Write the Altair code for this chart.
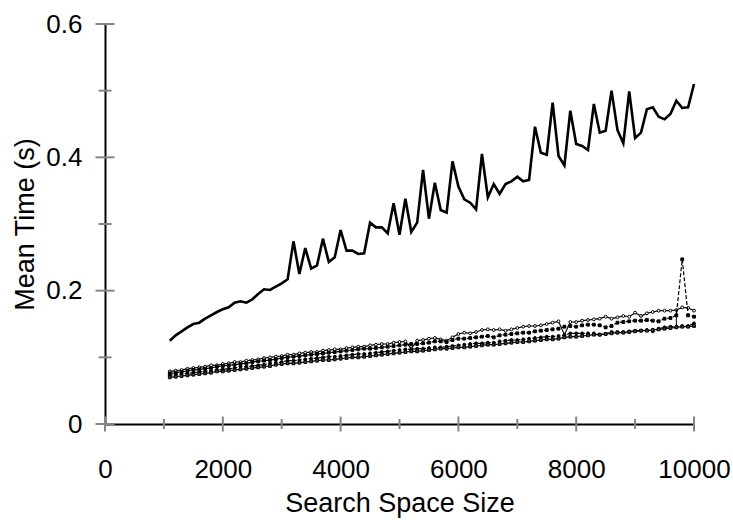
import altair as alt
import pandas as pd

# Problem sizes (x) shared by every series
sizes = list(range(1100, 10001, 100))

# Mean running time (s) per search-space size
slow_search = [
    .125, .133, .139, .145, .150, .152, .158, .163, .168, .172,
    .175, .182, .184, .182, .187, .195, .202, .201, .206, .211,
    .217, .274, .225, .264, .233, .238, .278, .243, .250, .291,
    .260, .260, .255, .256, .302, .295, .295, .286, .331, .284,
    .338, .288, .302, .381, .308, .362, .321, .317, .394, .356,
    .337, .332, .322, .405, .340, .360, .345, .360, .364, .371,
    .364, .366, .446, .407, .404, .482, .402, .388, .470, .420,
    .417, .411, .480, .437, .440, .500, .441, .421, .499, .429,
    .437, .472, .475, .461, .457, .465, .485, .474, .475, .510,
]
variant_a = [
    .079, .080, .081, .083, .084, .085, .086, .088, .088, .090,
    .091, .093, .093, .095, .096, .097, .099, .100, .101, .102,
    .104, .104, .106, .107, .108, .108, .110, .111, .112, .112,
    .114, .115, .116, .116, .118, .119, .120, .120, .122, .123,
    .124, .113, .125, .126, .128, .129, .127, .125, .130, .135,
    .137, .136, .138, .141, .142, .141, .142, .140, .142, .144,
    .146, .147, .147, .148, .150, .152, .154, .134, .153, .153,
    .155, .156, .157, .158, .161, .158, .160, .162, .161, .167,
    .162, .166, .168, .170, .170, .170, .171, .175, .174, .170,
]
variant_b = [
    .076, .077, .078, .080, .081, .082, .083, .084, .086, .087,
    .088, .089, .090, .091, .093, .094, .095, .096, .097, .099,
    .100, .101, .102, .103, .104, .105, .106, .107, .108, .109,
    .110, .111, .112, .113, .113, .114, .115, .116, .117, .118,
    .119, .120, .120, .121, .122, .124, .124, .123, .126, .128,
    .128, .129, .130, .131, .132, .130, .133, .134, .135, .136,
    .137, .137, .139, .140, .141, .142, .143, .146, .147, .146,
    .148, .149, .149, .148, .145, .147, .152, .153, .154, .155,
    .155, .156, .155, .154, .158, .159, .163, .247, .163, .161,
]
variant_c = [
    .073, .074, .075, .076, .077, .078, .079, .080, .081, .082,
    .083, .084, .086, .086, .087, .088, .089, .091, .092, .093,
    .095, .095, .096, .097, .098, .099, .100, .101, .101, .102,
    .103, .104, .105, .105, .106, .107, .108, .109, .110, .111,
    .112, .112, .113, .113, .114, .115, .115, .116, .117, .118,
    .119, .120, .121, .121, .122, .122, .124, .125, .126, .126,
    .127, .128, .129, .130, .131, .131, .132, .133, .136, .136,
    .136, .136, .136, .134, .135, .138, .138, .138, .139, .140,
    .140, .141, .139, .143, .145, .146, .146, .147, .147, .151,
]
variant_d = [
    .070, .071, .072, .073, .074, .075, .076, .077, .079, .079,
    .080, .081, .082, .083, .084, .085, .086, .087, .089, .090,
    .091, .091, .092, .093, .094, .095, .096, .096, .097, .098,
    .099, .100, .100, .101, .102, .103, .104, .105, .106, .107,
    .108, .109, .109, .110, .111, .112, .113, .113, .114, .115,
    .115, .116, .117, .118, .119, .119, .120, .121, .122, .123,
    .123, .124, .125, .126, .127, .127, .128, .130, .131, .131,
    .132, .133, .134, .134, .135, .136, .137, .137, .138, .139,
    .140, .140, .141, .142, .143, .144, .145, .146, .146, .147,
]

# Single range bar drawn near the right end
bar_size = [9700]
bar_low = [0.147]
bar_high = [0.171]

# Axis tick positions
x_major = [0, 2000, 4000, 6000, 8000, 10000]
x_minor = [1000, 3000, 5000, 7000, 9000]
y_major = [0, 0.2, 0.4, 0.6]
y_minor = [0.1, 0.3, 0.5]

FONT = "Liberation Sans"

x_scale = alt.Scale(domain=[0, 10000], nice=False, zero=False)
y_scale = alt.Scale(domain=[0, 0.6], nice=False, zero=False)

x_axis = alt.Axis(
    values=x_major, format="d", ticks=False, tickSize=0, grid=False,
    domainColor="black", domainWidth=2, labelFlush=False, labelOverlap=False,
    labelFont=FONT, labelFontSize=26, labelColor="black", labelPadding=32,
    title="Search Space Size", titleFont=FONT, titleFontSize=27,
    titleFontWeight="normal", titleColor="black", titlePadding=8,
)
y_axis = alt.Axis(
    values=y_major, format="~g", ticks=False, tickSize=0, grid=False,
    domainColor="black", domainWidth=2, labelFlush=False, labelOverlap=False,
    labelFont=FONT, labelFontSize=26, labelColor="black", labelPadding=23,
    title="Mean Time (s)", titleFont=FONT, titleFontSize=27,
    titleFontWeight="normal", titleColor="black", titlePadding=6,
)

X = alt.X("size:Q", scale=x_scale, axis=x_axis)
Y = alt.Y("time:Q", scale=y_scale, axis=y_axis)


def frame(values):
    return pd.DataFrame({"size": sizes, "time": values})


layers = []

# Thick solid line for the slow search
layers.append(
    alt.Chart(frame(slow_search))
    .mark_line(color="black", strokeWidth=2.6, strokeJoin="miter")
    .encode(x=X, y=Y)
)

# Thin lines with small markers for the faster variants
styles = [
    (variant_a, [], "circle", "white"),
    (variant_b, [4, 2], "square", "black"),
    (variant_c, [3, 2], "circle", "black"),
    (variant_d, [], "square", "#444444"),
]
for values, dash, shape, fill in styles:
    line_kw = dict(color="black", strokeWidth=1.2)
    if dash:
        line_kw["strokeDash"] = dash
    layers.append(alt.Chart(frame(values)).mark_line(**line_kw).encode(x=X, y=Y))
    layers.append(
        alt.Chart(frame(values))
        .mark_point(shape=shape, filled=True, fill=fill, stroke="black",
                    strokeWidth=1, size=8, opacity=1)
        .encode(x=X, y=Y)
    )

bar_df = pd.DataFrame({"size": bar_size, "time": bar_low, "time_hi": bar_high})
layers.append(
    alt.Chart(bar_df).mark_rule(color="black", strokeWidth=1)
    .encode(x=X, y=Y, y2="time_hi:Q")
)

# Axis ticks that cross the axis lines
tick_color = "#858585"
xt_major = pd.DataFrame({"size": x_major, "time": [0] * len(x_major)})
xt_minor = pd.DataFrame({"size": x_minor, "time": [0] * len(x_minor)})
yt_major = pd.DataFrame({"size": [0] * len(y_major), "time": y_major})
yt_minor = pd.DataFrame({"size": [0] * len(y_minor), "time": y_minor})

layers.append(alt.Chart(xt_major).mark_tick(orient="vertical", size=15, thickness=2,
                                            color=tick_color, opacity=1).encode(x=X, y=Y))
layers.append(alt.Chart(xt_minor).mark_tick(orient="vertical", size=10, thickness=2,
                                            color=tick_color, opacity=1).encode(x=X, y=Y))
layers.append(alt.Chart(yt_major).mark_tick(orient="horizontal", size=19, thickness=2,
                                            color=tick_color, opacity=1).encode(x=X, y=Y))
layers.append(alt.Chart(yt_minor).mark_tick(orient="horizontal", size=13, thickness=2,
                                            color=tick_color, opacity=1).encode(x=X, y=Y))

chart = (
    alt.layer(*layers)
    .properties(
        width=589, height=400,
        autosize=alt.AutoSizeParams(type="none"),
        padding={"left": 105, "top": 24, "right": 39, "bottom": 96},
        background="white",
    )
    .configure_view(stroke=None)
)

chart.save("out.html", embed_options={"renderer": "svg", "actions": False})
